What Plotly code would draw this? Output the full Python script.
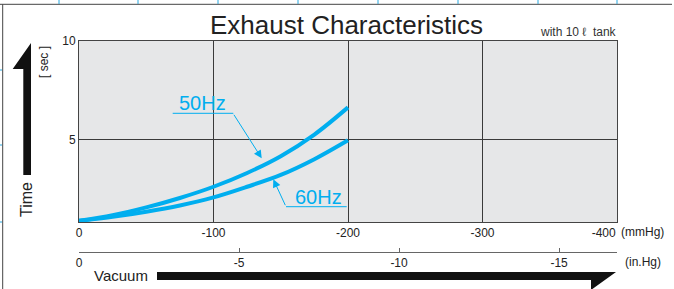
import plotly.graph_objects as go

# ---- data ----
vacuum_mmhg = [0, -25, -50, -75, -100, -125, -150, -175, -200]
time_50hz = [0.87, 1.15, 1.55, 2.03, 2.6, 3.3, 4.15, 5.25, 6.63]
time_60hz = [0.87, 1.07, 1.33, 1.65, 2.06, 2.6, 3.2, 4.0, 4.96]

mmhg_ticks = [0, -100, -200, -300, -400]
inhg_ticks = [0, -5, -10, -15]
time_ticks = [5, 10]

W, H = 674, 289
L, R = 79, 617          # plot left/right px
TOP, PB = 41, 222       # plot top / bottom px
PAPER_BOTTOM = 252      # paper bottom px (in.Hg axis line)
CYAN = "#00aeef"
FONT = "Liberation Sans, Arial, sans-serif"
NBSP = "\u00a0"


def px(x):
    return (x - L) / (R - L)


def py(y):
    return (PAPER_BOTTOM - y) / (PAPER_BOTTOM - TOP)


fig = go.Figure()
fig.add_trace(go.Scatter(x=vacuum_mmhg, y=time_50hz, mode="lines",
                         line=dict(color=CYAN, width=4, shape="spline"),
                         hoverinfo="skip", showlegend=False))
fig.add_trace(go.Scatter(x=vacuum_mmhg, y=time_60hz, mode="lines",
                         line=dict(color=CYAN, width=4, shape="spline"),
                         hoverinfo="skip", showlegend=False))
# invisible trace to carry the in.Hg axis
fig.add_trace(go.Scatter(x=[0, -15], y=[None, None], xaxis="x2", mode="lines",
                         hoverinfo="skip", showlegend=False))

dom_bottom = py(PB)

# last mmHg label sits left of the plot edge (padded so it ends at the border)
mmhg_text = [str(v) for v in mmhg_ticks]
mmhg_text[-1] = mmhg_text[-1] + NBSP * 8

fig.update_layout(
    width=W, height=H,
    margin=dict(l=L, r=W - R, t=TOP, b=H - PAPER_BOTTOM, pad=0),
    paper_bgcolor="white",
    plot_bgcolor="#e6e7e8",
    font=dict(family=FONT, size=12, color="#222"),
    xaxis=dict(range=[0, -400], tickvals=mmhg_ticks, ticktext=mmhg_text,
               showgrid=True, gridcolor="#3a3a3a", gridwidth=1,
               zeroline=False, showline=True, linecolor="#444", linewidth=1,
               mirror=True, ticks="", tickfont=dict(size=12, color="#222"),
               fixedrange=True),
    yaxis=dict(range=[0.81, 10], domain=[dom_bottom, 1], tickvals=time_ticks,
               ticktext=[str(v) for v in time_ticks],
               showgrid=True, gridcolor="#3a3a3a", gridwidth=1,
               zeroline=False, showline=True, linecolor="#444", linewidth=1,
               mirror=True, ticks="", tickfont=dict(size=12, color="#222"),
               fixedrange=True),
    xaxis2=dict(range=[0, -16.81], overlaying="x", anchor="free", position=0,
                side="bottom", tickvals=inhg_ticks,
                ticktext=[str(v) for v in inhg_ticks],
                showgrid=False, zeroline=False, showline=True,
                linecolor="#666", linewidth=1, ticks="inside", ticklen=4,
                tickcolor="#666", tickfont=dict(size=12, color="#222"),
                fixedrange=True),
)

annotations = [
    dict(text="Exhaust Characteristics", x=px(346), y=py(25), xref="paper", yref="paper",
         showarrow=False, font=dict(size=26, color="#222"), xanchor="center", yanchor="middle"),
    dict(text="with 10 \u2113" + NBSP * 2 + "tank", x=px(538), y=py(32), xref="paper", yref="paper",
         showarrow=False, font=dict(size=12, color="#333"), xanchor="left", yanchor="middle"),
    dict(text="(mmHg)", x=px(619), y=py(232), xref="paper", yref="paper",
         showarrow=False, font=dict(size=12, color="#222"), xanchor="left", yanchor="middle"),
    dict(text="(in.Hg)", x=px(623), y=py(262), xref="paper", yref="paper",
         showarrow=False, font=dict(size=12, color="#222"), xanchor="left", yanchor="middle"),
    dict(text="Vacuum", x=px(92), y=py(275), xref="paper", yref="paper",
         showarrow=False, font=dict(size=15, color="#222"), xanchor="left", yanchor="middle"),
    dict(text="Time", x=px(26), y=py(200), xref="paper", yref="paper", textangle=-90,
         showarrow=False, font=dict(size=16, color="#222"), xanchor="center", yanchor="middle"),
    dict(text="[ sec ]", x=px(44), y=py(62), xref="paper", yref="paper", textangle=-90,
         showarrow=False, font=dict(size=12, color="#222"), xanchor="center", yanchor="middle"),
    dict(text="50Hz", x=px(202), y=py(103), xref="paper", yref="paper",
         showarrow=False, font=dict(size=20, color=CYAN), xanchor="center", yanchor="middle"),
    dict(text="60Hz", x=px(318), y=py(197), xref="paper", yref="paper",
         showarrow=False, font=dict(size=20, color=CYAN), xanchor="center", yanchor="middle"),
    # leader arrows
    dict(text="", x=px(261.7), y=py(158.3), xref="paper", yref="paper",
         ax=233 - 261.7, ay=113.3 - 158.3, axref="pixel", ayref="pixel",
         showarrow=True, arrowhead=2, arrowsize=1.6, arrowwidth=1, arrowcolor=CYAN),
    dict(text="", x=px(273.3), y=py(179.3), xref="paper", yref="paper",
         ax=286 - 273.3, ay=206.7 - 179.3, axref="pixel", ayref="pixel",
         showarrow=True, arrowhead=2, arrowsize=1.6, arrowwidth=1, arrowcolor=CYAN),
]

shapes = [
    # underlines for labels
    dict(type="line", x0=px(172.7), x1=px(233.3), y0=py(113.3), y1=py(113.3),
         xref="paper", yref="paper", line=dict(color=CYAN, width=1)),
    dict(type="line", x0=px(286), x1=px(346.7), y0=py(206.7), y1=py(206.7),
         xref="paper", yref="paper", line=dict(color=CYAN, width=1)),
    # Time arrow (half arrowhead)
    dict(type="path", xref="paper", yref="paper", fillcolor="#111", line=dict(width=0),
         path=f"M {px(23.3)},{py(175)} L {px(23.3)},{py(69)} L {px(12.7)},{py(69)} "
              f"L {px(31)},{py(43)} L {px(31)},{py(175)} Z"),
    # Vacuum arrow (half arrowhead)
    dict(type="path", xref="paper", yref="paper", fillcolor="#111", line=dict(width=0),
         path=f"M {px(157)},{py(272)} L {px(616)},{py(272)} L {px(591)},{py(290)} "
              f"L {px(591)},{py(280)} L {px(157)},{py(280)} Z"),
    # page frame
    dict(type="line", x0=px(0), x1=px(672), y0=py(4.3), y1=py(4.3),
         xref="paper", yref="paper", line=dict(color="#444", width=1)),
    dict(type="line", x0=px(2.7), x1=px(2.7), y0=py(4.3), y1=py(289),
         xref="paper", yref="paper", line=dict(color="#444", width=1)),
]
for tx in [59, 138, 218, 298, 378, 458, 538, 617]:
    shapes.append(dict(type="line", x0=px(tx), x1=px(tx), y0=py(0), y1=py(4),
                       xref="paper", yref="paper", line=dict(color="#29a8e0", width=1)))
for ty in [70, 145, 222]:
    shapes.append(dict(type="line", x0=px(0), x1=px(2), y0=py(ty), y1=py(ty),
                       xref="paper", yref="paper", line=dict(color="#29a8e0", width=1)))

fig.update_layout(annotations=annotations, shapes=shapes)
fig.write_html("out.html", config={"displayModeBar": False},
               post_script="document.body.style.margin='0';document.body.style.overflow='hidden';")
